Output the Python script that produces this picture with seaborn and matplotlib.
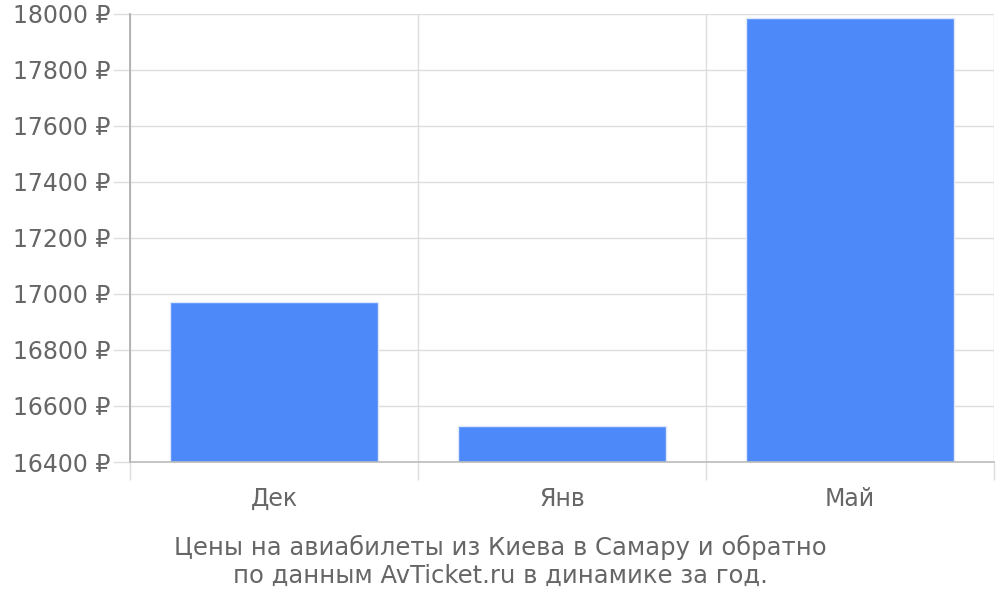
import matplotlib
matplotlib.use("Agg")
import matplotlib.pyplot as plt
import seaborn as sns
import pandas as pd
import numpy as np

categories = ["Дек", "Янв", "Май"]
prices = [16971, 16529, 17986]
yticks = [16400, 16600, 16800, 17000, 17200, 17400, 17600, 17800, 18000]
title_lines = ["Цены на авиабилеты из Киева в Самару и обратно",
               "по данным AvTicket.ru в динамике за год."]

sns.set_theme(style="white")
plt.rcParams['font.family'] = ['DejaVu Sans']

df = pd.DataFrame({"month": categories, "price": prices})

fig = plt.figure(figsize=(10, 6), dpi=100)
ax = fig.add_axes([0.13, 0.23, 0.864, 0.7467])

sns.barplot(data=df, x="month", y="price", color="#4d89f9", saturation=1,
            width=0.72, ax=ax, edgecolor="#dde8fd", linewidth=1, zorder=3)

ax.set_xlim(-0.5, len(categories) - 0.5)
ax.set_ylim(yticks[0], yticks[-1])
ax.set_yticks(yticks)
ax.set_yticklabels([f"{v} ₽" for v in yticks])
ax.set_xlabel("")
ax.set_ylabel("")

grid_c = "#dddddd"
ax.set_xticks(np.arange(-0.5, len(categories), 1.0), minor=True)
ax.grid(True, which="minor", axis="x", color=grid_c, linewidth=1, zorder=0)
ax.grid(True, which="major", axis="y", color=grid_c, linewidth=1, zorder=0)
ax.grid(False, which="major", axis="x")

ax.tick_params(axis="x", which="both", bottom=True)
ax.tick_params(axis="y", which="both", left=True)
ax.tick_params(axis="x", which="major", length=0, pad=18, labelsize=17, labelcolor="#666666")
ax.tick_params(axis="x", which="minor", length=13, width=1, color=grid_c)
ax.tick_params(axis="y", which="major", length=12, width=1, color=grid_c, pad=2,
               labelsize=17, labelcolor="#666666")

for s in ["top", "right"]:
    ax.spines[s].set_visible(False)
ax.spines["left"].set_color("#aaaaaa")
ax.spines["left"].set_linewidth(1.2)
ax.spines["bottom"].set_color("#bbbbbb")
ax.spines["bottom"].set_linewidth(1.2)
ax.spines["left"].set_zorder(4)
ax.spines["bottom"].set_zorder(4)

fig.text(0.5, 0.065, "\n".join(title_lines), ha="center", va="center",
         fontsize=17.5, color="#666666", linespacing=1.2)

fig.savefig("out.png", dpi=100, facecolor="white")
